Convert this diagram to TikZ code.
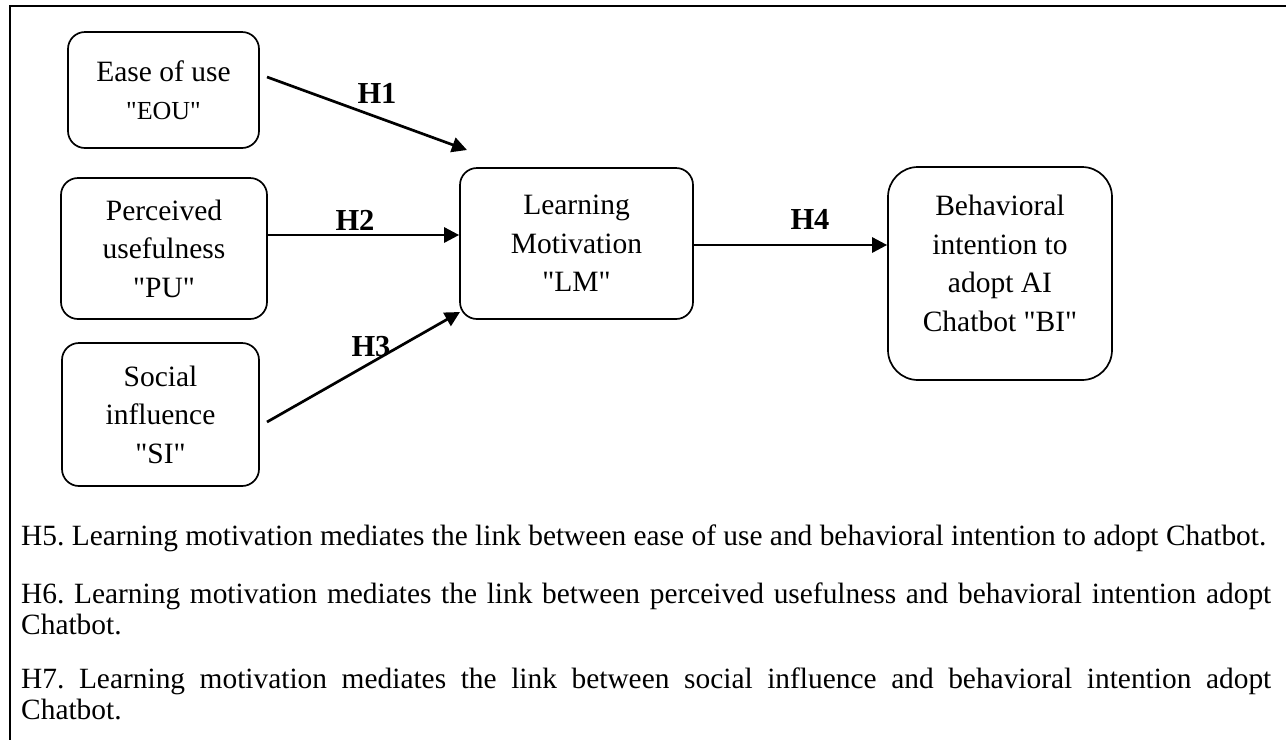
\documentclass[tikz,border=0pt]{standalone}
\usepackage{fontspec}
\setmainfont{Liberation Serif}[Ligatures=TeXOff]
\usetikzlibrary{arrows.meta}
\frenchspacing
\begin{document}
\begin{tikzpicture}[x=1pt,y=-1pt,
  box/.style={draw, line width=1.7pt, rounded corners=17pt, align=center,
    font=\fontsize{29.5}{38.5}\selectfont\frenchspacing, inner sep=0pt},
  arr/.style={line width=2.7pt, -{Triangle[length=15pt,width=15pt]}},
  hlab/.style={font=\fontsize{30.5}{36}\selectfont\bfseries, anchor=base, inner sep=0pt},
  body/.style={font=\fontsize{29.4}{33}\selectfont\frenchspacing, anchor=base west, inner sep=0pt}]
\useasboundingbox (0,0) rectangle (1286,740);
% frame (open to the right and bottom)
\coordinate (fr1) at (1286,6);
\coordinate (fr2) at (10,6);
\coordinate (fr3) at (10,740);
\draw[line width=2.2pt] (fr1) -- (fr2) -- (fr3);

% boxes
\node[box, minimum width=191pt, minimum height=116pt] (eou) at (163.5,90)
  {Ease of use\\{\fontsize{26}{38.5}\selectfont "EOU"}};
\node[box, minimum width=206pt, minimum height=141pt] (pu) at (164,248.5)
  {Perceived\\usefulness\\"PU"};
\node[box, minimum width=197pt, minimum height=143pt] (si) at (160.5,414.5)
  {Social\\influence\\"SI"};
\node[box, minimum width=233pt, minimum height=151pt] (lm) at (576.5,243.5)
  {Learning\\Motivation\\"LM"};
\node[box, rounded corners=30pt, minimum width=224pt, minimum height=213pt] (bi) at (1000,273.5) {};
\node[align=center, inner sep=0pt, font=\fontsize{29.5}{38.5}\selectfont] (bitext) at (1000,263.5)
  {Behavioral\\intention to\\adopt AI\\Chatbot "BI"};

% arrow end points
\coordinate (a1s) at (267,77);
\coordinate (a1e) at (467,150);
\coordinate (a2s) at (267,235);
\coordinate (a3s) at (267,422);
\coordinate (a3e) at (460,312);

\draw[arr] (a1s) -- (a1e);
\draw[arr] (a2s) -- (lm.west |- a2s);
\draw[arr] (a3s) -- (a3e);
\draw[arr] (lm.east |- 0,245) -- (bi.west |- 0,245);

\node[hlab] (h1) at (377,103) {H1};
\node[hlab] (h2) at (355,230) {H2};
\node[hlab] (h3) at (371,356) {H3};
\node[hlab] (h4) at (810,229) {H4};

% hypotheses text
\node[body] (h5) at (21,545) {H5. Learning motivation mediates the link between ease of use and behavioral intention to adopt Chatbot.};
\node[body] (h6a) at (21,603) {\makebox[1250pt][s]{H6. Learning motivation mediates the link between perceived usefulness and behavioral intention adopt}};
\node[body] (h6b) at (21,634) {Chatbot.};
\node[body] (h7a) at (21,688) {\makebox[1250pt][s]{H7. Learning motivation mediates the link between social influence and behavioral intention adopt}};
\node[body] (h7b) at (21,719) {Chatbot.};
\end{tikzpicture}
\end{document}
